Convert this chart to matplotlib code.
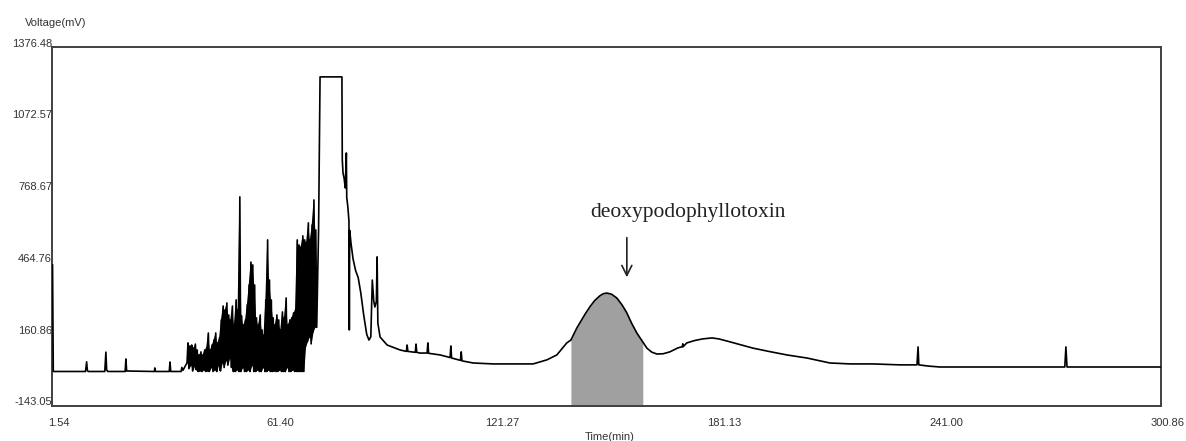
import matplotlib
matplotlib.use("Agg")
import matplotlib.pyplot as plt
import matplotlib.transforms as mtransforms
import numpy as np

# baseline with the small early peaks (time in min, signal in mV)
lead_time = [1.54, 1.7, 1.9, 10.6, 10.9, 11.1, 11.3, 15.8, 16.1, 16.3, 16.6,
             21.3, 21.5, 21.7, 29.2, 29.3, 29.5, 33.2, 33.4, 33.6,
             36.4, 36.6, 36.9, 37.5]
lead_mv = [455, 455, 3, 3, 44, 8, 3, 3, 85, 10, 3,
           3, 56, 5, 3, 18, 3, 3, 43, 3,
           3, 20, 8, 25]

# noisy region: lower / upper level of the fast oscillation
noise_time = [38.0, 38.5, 39.0, 39.5, 40.0, 40.5, 41.0, 41.5, 42.0, 42.5,
              43.0, 43.5, 44.0, 44.5, 45.0, 45.5, 46.0, 46.5, 47.0, 47.5,
              48.0, 48.5, 49.0, 49.5, 50.0, 50.5, 51.0, 51.5, 52.0, 52.5,
              53.0, 53.5, 54.0, 54.5, 55.0, 55.5, 56.0, 56.5, 57.0, 57.5,
              58.0, 58.5, 59.0, 59.5, 60.0, 60.5, 61.0, 61.5, 62.0, 62.5,
              63.0, 63.5, 64.0, 64.5, 65.0, 65.5, 66.0, 66.5, 67.0, 67.5,
              68.0, 68.5, 69.0, 69.5, 70.0, 70.5, 71.0, 71.5, 72.0, 72.5]
noise_hi = [124, 111, 115, 102, 119, 94, 73, 86, 73, 94,
            102, 166, 94, 115, 136, 166, 124, 145, 221, 280,
            263, 293, 242, 221, 280, 200, 306, 263, 742, 238,
            200, 221, 285, 369, 466, 454, 369, 230, 200, 242,
            179, 158, 306, 560, 390, 306, 230, 200, 242, 221,
            179, 255, 230, 314, 200, 221, 230, 251, 263, 560,
            538, 530, 577, 560, 551, 632, 560, 623, 729, 602]
noise_lo = [40, 15, 30, 5, 25, 10, 3, 5, 3, 10,
            3, 5, 3, 20, 3, 10, 3, 30, 5, 40,
            20, 50, 30, 60, 20, 3, 3, 10, 3, 3,
            20, 3, 3, 10, 3, 30, 3, 3, 10, 3,
            3, 20, 3, 3, 10, 3, 3, 5, 3, 3,
            10, 3, 3, 3, 20, 3, 3, 10, 3, 3,
            3, 3, 3, 3, 110, 130, 150, 120, 170, 190]

# main (clipped) peak, tail, deoxypodophyllotoxin peak and late baseline
tail_time = [73.0, 73.5, 73.9, 79.8, 79.9, 80.1, 80.4, 80.7, 81.0,
             81.1, 81.4, 81.7, 81.8, 81.9, 82.3, 82.8, 83.5, 84.2, 84.9,
             85.7, 86.5, 87.1, 87.6, 88.0, 88.4, 88.7, 89.1, 89.3, 89.5,
             90.1, 92.0, 95.5, 97.2, 97.4, 97.6, 99.6, 99.8, 100.0, 100.9,
             102.8, 103.0, 103.2, 106.3, 109.0, 109.2, 109.4, 111.8, 112.0, 112.2,
             115.2, 120.6, 125.2, 131.4, 135.1, 137.8, 140.5, 141.6, 143.2, 144.0,
             145.4, 146.7, 148.0, 149.4, 150.3, 151.3, 152.6, 154.0, 155.4, 156.7,
             158.0, 159.4, 161.0, 162.1, 163.4, 164.8, 166.5, 168.3, 170.5, 171.7,
             171.8, 171.9, 172.9, 175.0, 177.2, 179.7, 181.5, 183.7, 187.0, 190.7,
             195.0, 199.9, 205.3, 211.5, 217.0, 223.1, 230.4, 235.0, 235.3, 235.5,
             238.0, 241.2, 274.9, 275.2, 275.5, 300.86]
tail_mv = [190, 600, 1250, 1250, 900, 843, 820, 780, 928,
           740, 700, 640, 179, 600, 540, 480, 430, 400, 335,
           240, 160, 136, 150, 390, 300, 276, 300, 488, 208,
           149, 115, 94, 88, 115, 88, 84, 119, 84, 81,
           81, 124, 80, 73, 62, 111, 60, 50, 86, 48,
           39, 35, 35, 35, 52, 73, 124, 136, 187, 208,
           245, 276, 303, 323, 332, 335, 330, 314, 285, 251,
           207, 166, 128, 102, 85, 77, 78, 86, 103, 108,
           120, 108, 124, 134, 141, 145, 141, 132, 118, 102,
           88, 73, 60, 39, 35, 35, 31, 31, 107, 31,
           26, 22, 22, 107, 22, 22]

shade_start, shade_end = 141.6, 161.0

x_ticks = [1.54, 61.40, 121.27, 181.13, 241.00, 300.86]
y_ticks = [-143.05, 160.86, 464.76, 768.67, 1072.57, 1376.48]

# build the trace: noise drawn as a fast zig-zag between low and high levels
nt = np.array(noise_time)
zz_t = np.empty(2 * len(nt))
zz_v = np.empty(2 * len(nt))
zz_t[0::2] = nt
zz_t[1::2] = nt + 0.25
zz_v[0::2] = noise_lo
zz_v[1::2] = noise_hi

t = np.concatenate([lead_time, zz_t, tail_time])
v = np.concatenate([lead_mv, zz_v, tail_mv])

fig = plt.figure(figsize=(11.86, 4.41), dpi=100)
ax = fig.add_axes([0.0438, 0.0794, 0.9351, 0.814])

mask = (t >= shade_start) & (t <= shade_end)
ax.fill_between(t, v, y_ticks[0], where=mask, color="#a0a0a0", lw=0, zorder=1)
# the oscillation is so fast that it reads as a solid black band
ax.fill_between(noise_time, noise_lo, noise_hi, color="black", lw=0, zorder=2)
ax.plot(t, v, color="black", lw=1.2, zorder=3)

ax.set_xlim(x_ticks[0], x_ticks[-1])
ax.set_ylim(y_ticks[0], y_ticks[-1])
ax.set_xticks(x_ticks)
ax.set_xticklabels(["%.2f" % x for x in x_ticks])
ax.set_yticks(y_ticks)
ax.set_yticklabels(["%.2f" % y for y in y_ticks])
ax.tick_params(length=0, labelsize=8, labelcolor="#333333")
ax.tick_params(axis="y", pad=0)
ax.tick_params(axis="x", pad=9)
for lab in ax.get_xticklabels():
    lab.set_fontfamily("Liberation Sans")
    lab.set_transform(lab.get_transform() + mtransforms.ScaledTranslation(0.07, 0, fig.dpi_scale_trans))
for lab in ax.get_yticklabels():
    lab.set_fontfamily("Liberation Sans")
    lab.set_transform(lab.get_transform() + mtransforms.ScaledTranslation(0, 0.045, fig.dpi_scale_trans))

for sp in ax.spines.values():
    sp.set_color("#404040")
    sp.set_linewidth(1.4)

fig.text(56 / 1186, 1 - 23 / 441, "Voltage(mV)", fontsize=8, color="#333333",
         family="Liberation Sans", ha="center", va="center")
fig.text(610 / 1186, 4 / 441, "Time(min)", fontsize=8, color="#333333",
         family="Liberation Sans", ha="center", va="center")

ax.annotate("", xy=(156.7, 390), xytext=(156.7, 581),
            arrowprops=dict(arrowstyle="->", color="#222222", lw=1.2,
                            mutation_scale=18))
ax.text(173.2, 674, "deoxypodophyllotoxin", fontsize=15.5, family="Liberation Serif",
        color="#222222", ha="center", va="center")

fig.savefig("out.png", dpi=100)
